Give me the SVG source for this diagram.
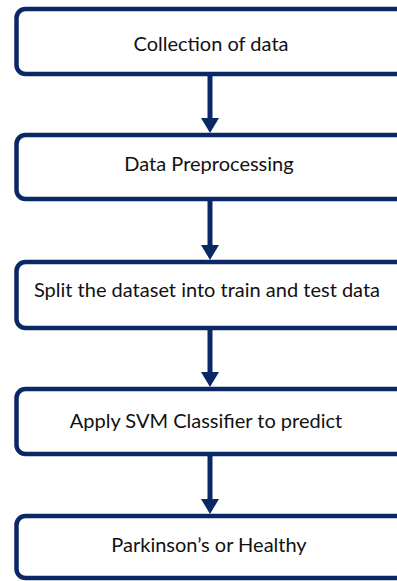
<svg xmlns="http://www.w3.org/2000/svg" width="397" height="581" viewBox="0 0 397 581">
<style>
.box{fill:#fff;stroke:#0b2866;stroke-width:4.5}
.lbl{font-family:Lato,"Open Sans",sans-serif;font-size:20px;fill:#111;text-anchor:middle}
.conn{stroke:#0b2866;stroke-width:5;fill:none}
.head{fill:#0b2866}
</style>
<rect width="397" height="581" fill="#fff"/>
<g id="connectors">
<line class="conn" x1="210" y1="74" x2="210" y2="119"/><polygon class="head" points="201,118 219,118 210,133"/>
<line class="conn" x1="210" y1="199" x2="210" y2="246"/><polygon class="head" points="201,245 219,245 210,260"/>
<line class="conn" x1="210" y1="328" x2="210" y2="373"/><polygon class="head" points="201,372 219,372 210,387"/>
<line class="conn" x1="210" y1="454" x2="210" y2="500"/><polygon class="head" points="201,499 219,499 210,514"/>
</g>
<g id="n1"><rect class="box" x="16.5" y="9" width="420" height="65" rx="9"/><text class="lbl" x="211" y="51">Collection of data</text></g>
<g id="n2"><rect class="box" x="16.5" y="135" width="420" height="64" rx="9"/><text class="lbl" x="209" y="171">Data Preprocessing</text></g>
<g id="n3"><rect class="box" x="16.5" y="262" width="420" height="66" rx="9"/><text class="lbl" x="207" y="297">Split the dataset into train and test data</text></g>
<g id="n4"><rect class="box" x="16.5" y="389" width="420" height="65" rx="9"/><text class="lbl" x="206" y="428">Apply SVM Classifier to predict</text></g>
<g id="n5"><rect class="box" x="16.5" y="516" width="420" height="62" rx="9"/><text class="lbl" x="209" y="552">Parkinson’s or Healthy</text></g>
</svg>
